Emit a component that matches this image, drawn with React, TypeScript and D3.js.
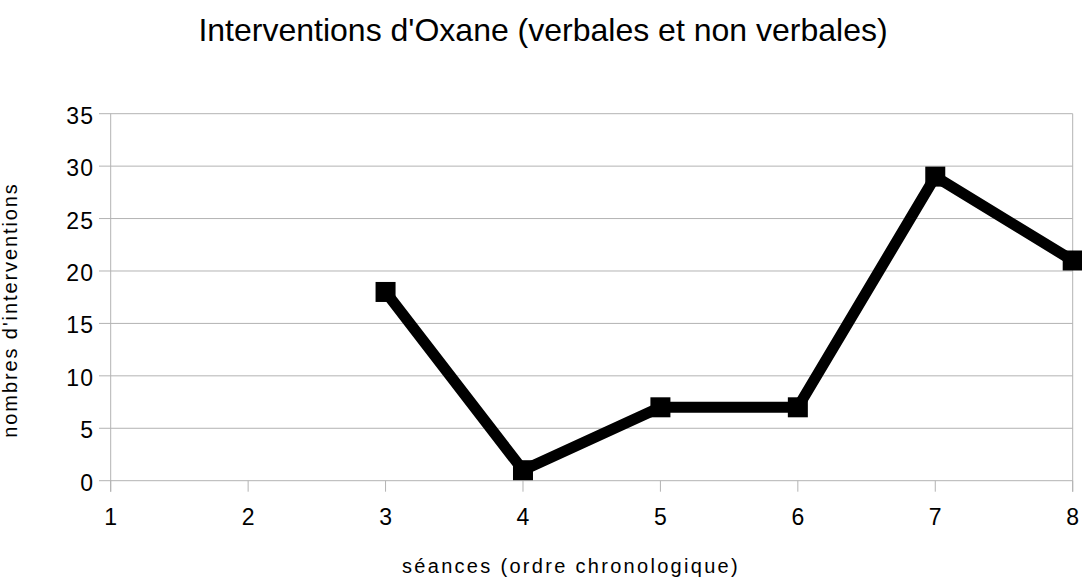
import React from "react";
import * as d3 from "d3";

const sessions = [1, 2, 3, 4, 5, 6, 7, 8];
const seriesX = [3, 4, 5, 6, 7, 8];
const seriesY = [18, 1, 7, 7, 29, 21];
const yTicks = [0, 5, 10, 15, 20, 25, 30, 35];
const title = "Interventions d'Oxane (verbales et non verbales)";
const xTitle = "séances (ordre chronologique)";
const yTitle = "nombres d'interventions";

export default function App() {
  const W = 1082, H = 579;
  const x = d3.scaleLinear().domain([1, 8]).range([110.7, 1072.7]);
  const y = d3.scaleLinear().domain([0, 35]).range([480.7, 113.7]);
  const pts = seriesX.map((v, i) => [x(v), y(seriesY[i])] as [number, number]);
  const line = d3.line()(pts) || "";
  const font = "'Liberation Sans', Arial, sans-serif";
  const grid = "#b3b3b3";
  const ms = 20;
  const tls = 1.2;
  return (
    <svg width={W} height={H} style={{ position: "absolute", left: 0, top: 0, background: "#fff" }} fontFamily={font}>
      <text x={543} y={41} textAnchor="middle" fontSize={32} fill="#000">{title}</text>
      {yTicks.map(t => (
        <g key={t}>
          <line x1={99} x2={x(8)} y1={y(t)} y2={y(t)} stroke={grid} strokeWidth={1} />
          <text x={93 + tls} y={y(t) + 10} textAnchor="end" fontSize={23} letterSpacing={tls} fill="#000">{t}</text>
        </g>
      ))}
      <line x1={x(1)} x2={x(1)} y1={y(35)} y2={y(0) + 11} stroke={grid} strokeWidth={1} />
      <line x1={x(8)} x2={x(8)} y1={y(35)} y2={y(0) + 11} stroke={grid} strokeWidth={1} />
      {sessions.map(s => (
        <g key={s}>
          <line x1={x(s)} x2={x(s)} y1={y(0)} y2={y(0) + 11} stroke={grid} strokeWidth={1} />
          <text x={x(s)} y={525} textAnchor="middle" fontSize={23} fill="#000">{s}</text>
        </g>
      ))}
      <text x={571} y={573} textAnchor="middle" fontSize={20} letterSpacing={2.3} fill="#000">{xTitle}</text>
      <text transform={`translate(17,310) rotate(-90)`} textAnchor="middle" fontSize={20} letterSpacing={1.9} fill="#000">{yTitle}</text>
      <path d={line} fill="none" stroke="#000" strokeWidth={11} strokeLinejoin="miter" />
      {pts.map((p, i) => (
        <rect key={i} x={p[0] - ms / 2} y={p[1] - ms / 2} width={ms} height={ms} fill="#000" />
      ))}
    </svg>
  );
}
